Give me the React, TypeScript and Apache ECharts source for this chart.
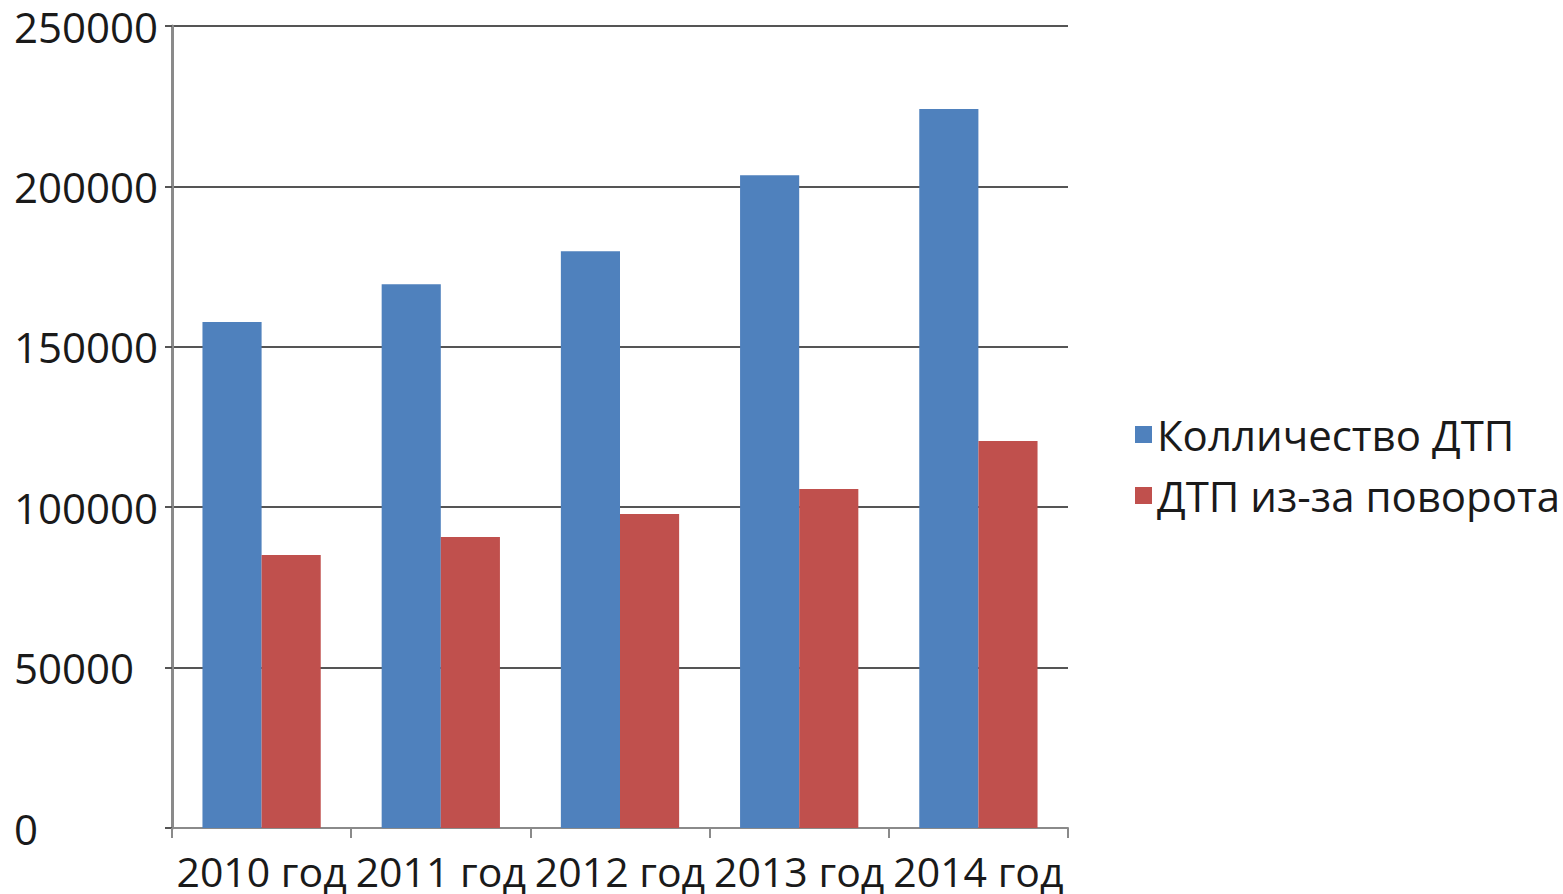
import React, { useEffect, useRef } from "react";
import * as echarts from "echarts";

const categories = ["2010 год", "2011 год", "2012 год", "2013 год", "2014 год"];
const seriesNames = ["Колличество ДТП", "ДТП из-за поворота"];
const totalAccidents = [157700, 169500, 179800, 203500, 224100];
const turnAccidents = [85100, 90700, 97900, 105700, 120600];
const yTicks = { min: 0, max: 250000, interval: 50000 };

const FONT = "'Open Sans', 'Noto Sans', sans-serif";

export default function App() {
  const ref = useRef<HTMLDivElement>(null);
  useEffect(() => {
    if (!ref.current) return;
    const chart = echarts.init(ref.current, null, { renderer: "svg" });
    chart.setOption({
      animation: false,
      backgroundColor: "#ffffff",
      textStyle: { fontFamily: FONT },
      grid: { left: 172, top: 26, right: 495, bottom: 66, containLabel: false },
      legend: {
        orient: "vertical",
        left: 1130,
        top: 406,
        itemWidth: 17,
        itemHeight: 17,
        itemGap: 14,
        icon: "rect",
        data: seriesNames,
        textStyle: { fontSize: 42, color: "#1a1a1a", fontFamily: FONT, lineHeight: 47, padding: [0, 0, 0, 0] },
      },
      xAxis: {
        type: "category",
        data: categories,
        axisLine: { show: true, lineStyle: { color: "#8a8a8a", width: 2 } },
        axisTick: { show: true, length: 10, inside: false, lineStyle: { color: "#8a8a8a", width: 2 } },
        axisLabel: { interval: 0, fontSize: 41, lineHeight: 42, color: "#1a1a1a", margin: 22, fontFamily: FONT },
      },
      yAxis: {
        type: "value",
        min: yTicks.min,
        max: yTicks.max,
        interval: yTicks.interval,
        axisLine: { show: true, lineStyle: { color: "#8a8a8a", width: 3 } },
        axisTick: { show: true, length: 7, lineStyle: { color: "#555", width: 2 } },
        axisLabel: {
          fontSize: 42,
          lineHeight: 42,
          color: "#1a1a1a",
          margin: 158,
          align: "left",
          fontFamily: FONT,
          formatter: (v: number) => String(v),
        },
        splitLine: { show: true, lineStyle: { color: "#555555", width: 2 } },
      },
      series: [
        {
          name: seriesNames[0],
          type: "bar",
          data: totalAccidents,
          itemStyle: { color: "#4F81BD" },
          barGap: "0%",
          barCategoryGap: "34%",
        },
        {
          name: seriesNames[1],
          type: "bar",
          data: turnAccidents,
          itemStyle: { color: "#C0504D" },
          barGap: "0%",
          barCategoryGap: "34%",
        },
      ],
    });
    return () => chart.dispose();
  }, []);
  return <div ref={ref} style={{ position: "fixed", left: 0, top: 0, width: 1563, height: 894 }} />;
}
